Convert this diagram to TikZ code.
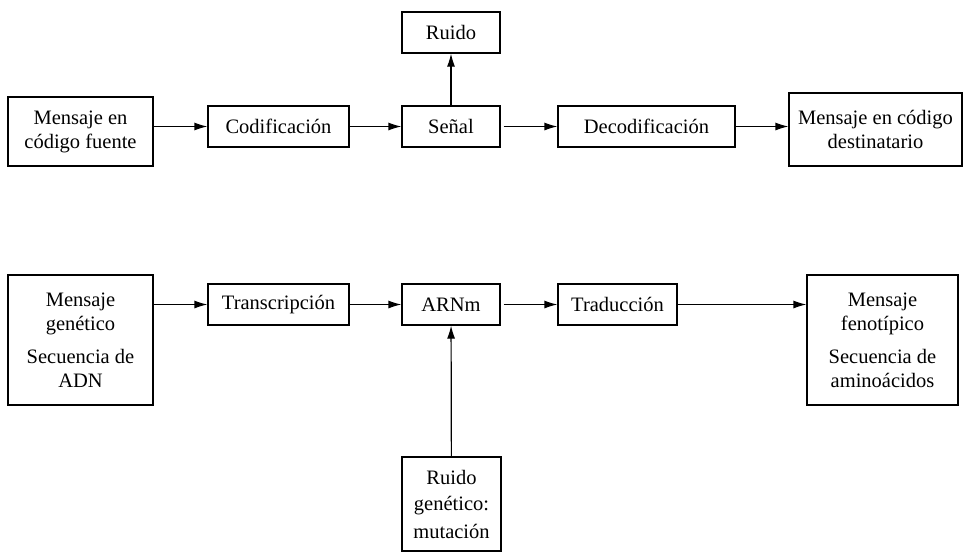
\documentclass[tikz,border=0pt]{standalone}
\usepackage{fontspec}
\setmainfont{Liberation Serif}
\usepackage{tikz}
\usetikzlibrary{arrows.meta,calc}

\begin{document}
\begin{tikzpicture}[x=1pt,y=-1pt,
    caja/.style={draw,line width=1.2pt,align=center,inner sep=0pt,
        font=\fontsize{20.5}{24}\selectfont},
    flecha/.style={line width=1.2pt,-{Latex[length=13pt,width=8pt]}}]
                \useasboundingbox (0,0) rectangle (963,552);

                \node[caja,minimum width=145,minimum height=69] (fuente) at (80.5,131.5) {Mensaje en\\código fuente};
                \node[caja,minimum width=141,minimum height=41] (codif) at (278.5,126.5) {Codificación};
                \node[caja,minimum width=98,minimum height=41] (senal) at (451,126.5) {Señal};
                \node[caja,minimum width=98,minimum height=41] (ruido) at (451,32.5) {Ruido};
                \node[caja,minimum width=177,minimum height=41] (decodif) at (646.5,126.5) {Decodificación};
                \node[caja,minimum width=173,minimum height=73] (destino) at (875.5,129.5) {Mensaje en código\\destinatario};

                \node[caja,minimum width=145,minimum height=130] (genetico) at (80.5,340) {Mensaje\\genético\\[9pt]Secuencia de\\ADN};
                \node[caja,minimum width=141,minimum height=41] (transc) at (278.5,304.5) {Transcripción};
                \node[caja,minimum width=98,minimum height=41] (arnm) at (451,304.5) {ARNm};
                \node[caja,minimum width=119,minimum height=41] (traduc) at (617.5,304.5) {Traducción};
                \node[caja,minimum width=151,minimum height=130] (fenot) at (882.5,340) {Mensaje\\fenotípico\\[9pt]Secuencia de\\aminoácidos};
                \node[caja,minimum width=99,minimum height=94] (mutacion) at (451.5,504) {Ruido\\[2pt]genético:\\[4pt]mutación};

                \draw[flecha] (codif.west -| fuente.east) -- (codif.west);
                \draw[flecha] (codif) -- (senal);
                \draw[flecha] (senal) -- (ruido);
                \draw[flecha,shorten <=3pt] (senal) -- (decodif);
                \draw[flecha] (decodif) -- (decodif -| destino.west);

                \draw[flecha] (transc.west -| genetico.east) -- (transc.west);
                \draw[flecha] (transc) -- (arnm);
                \draw[flecha,shorten <=3pt] (arnm) -- (traduc);
                \draw[flecha] (traduc) -- (traduc -| fenot.west);
                \draw[flecha] (mutacion) -- (arnm);
            \end{tikzpicture}
\end{document}
